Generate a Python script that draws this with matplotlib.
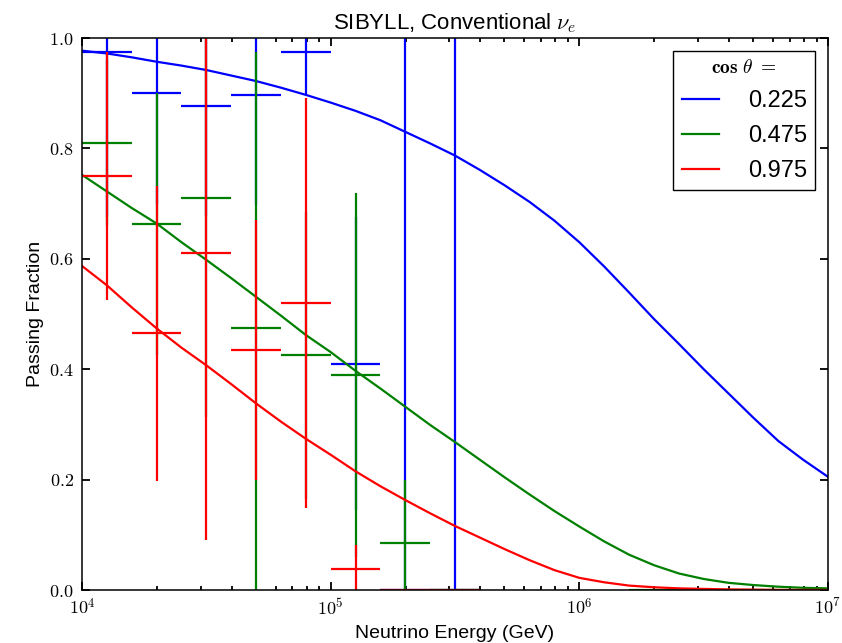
import numpy as np
import matplotlib
matplotlib.use('Agg')
import matplotlib.pyplot as plt
from matplotlib.ticker import FixedLocator, FuncFormatter, LogLocator

plt.rcParams['font.family'] = ['Liberation Sans', 'DejaVu Sans']
plt.rcParams['mathtext.fontset'] = 'cm'

# ---- model curves (passing fraction vs log10 E) ----
logE_curve = [4.0, 4.1, 4.2, 4.3, 4.4, 4.5, 4.6, 4.7, 4.8, 4.9, 5.0,
              5.1, 5.2, 5.3, 5.4, 5.5, 5.6, 5.7, 5.8, 5.9, 6.0,
              6.1, 6.2, 6.3, 6.4, 6.5, 6.6, 6.7, 6.8, 6.9, 7.0]
curve_225 = [0.977, 0.972, 0.965, 0.957, 0.950, 0.942, 0.932, 0.922, 0.910, 0.897, 0.883,
             0.868, 0.851, 0.830, 0.809, 0.787, 0.761, 0.733, 0.703, 0.669, 0.630,
             0.586, 0.539, 0.491, 0.446, 0.400, 0.356, 0.312, 0.270, 0.236, 0.205]
curve_475 = [0.752, 0.722, 0.692, 0.664, 0.630, 0.598, 0.565, 0.531, 0.497, 0.462, 0.431,
             0.397, 0.365, 0.332, 0.299, 0.268, 0.236, 0.204, 0.173, 0.143, 0.115,
             0.088, 0.064, 0.045, 0.030, 0.020, 0.013, 0.009, 0.006, 0.004, 0.003]
curve_975 = [0.587, 0.552, 0.512, 0.474, 0.439, 0.407, 0.373, 0.338, 0.305, 0.274, 0.245,
             0.215, 0.188, 0.163, 0.139, 0.116, 0.095, 0.074, 0.054, 0.036, 0.022,
             0.014, 0.008, 0.005, 0.003, 0.002, 0.001, 0.0005, 0.0, 0.0, 0.0]

# ---- binned MC points (bin centres in log10 E, half width 0.1 decade) ----
bin_halfwidth = 0.1

bins_225 = [4.1, 4.3, 4.5, 4.7, 4.9, 5.1, 5.3, 5.5]
pf_225 = [0.975, 0.900, 0.877, 0.897, 0.975, 0.410, 0.0, 0.0]
lo_225 = [0.300, 0.200, 0.200, 0.200, 0.078, 0.265, 0.0, 0.0]
hi_225 = [0.300, 0.200, 0.200, 0.200, 0.078, 0.265, 1.5, 1.5]

bins_475 = [4.1, 4.3, 4.5, 4.7, 4.9, 5.1, 5.3, 5.5, 6.3, 6.5, 6.7, 6.9]
pf_475 = [0.810, 0.663, 0.710, 0.475, 0.425, 0.390, 0.085, 0.0, 0.0, 0.0, 0.0, 0.0]
lo_475 = [0.150, 0.237, 0.397, 0.475, 0.260, 0.330, 0.085, 0.0, 0.0, 0.0, 0.0, 0.0]
hi_475 = [0.150, 0.237, 0.397, 0.500, 0.260, 0.330, 0.115, 0.0, 0.0, 0.0, 0.0, 0.0]

bins_975 = [4.1, 4.3, 4.5, 4.7, 4.9, 5.1, 5.3, 5.5, 6.5, 6.7, 6.9]
pf_975 = [0.750, 0.465, 0.610, 0.435, 0.520, 0.038, 0.0, 0.0, 0.0, 0.0, 0.0]
lo_975 = [0.225, 0.267, 0.520, 0.235, 0.372, 0.038, 0.0, 0.0, 0.0, 0.0, 0.0]
hi_975 = [0.225, 0.267, 0.520, 0.235, 0.372, 0.044, 0.0, 0.0, 0.0, 0.0, 0.0]

labels = ['0.225', '0.475', '0.975']
colors = ['b', 'g', 'r']

series = [
    (curve_225, bins_225, pf_225, lo_225, hi_225),
    (curve_475, bins_475, pf_475, lo_475, hi_475),
    (curve_975, bins_975, pf_975, lo_975, hi_975),
]

fig = plt.figure(figsize=(8.42, 6.43), dpi=100)
ax = fig.add_axes([0.0974, 0.0824, 0.886, 0.8585])

E_curve = 10**np.array(logE_curve)
for (curve, bins, pf, lo, hi), lab, col in zip(series, labels, colors):
    ax.plot(E_curve, curve, color=col, lw=1.6, label=lab)
    lb = np.array(bins)
    E = 10**lb
    xerr = [E - 10**(lb - bin_halfwidth), 10**(lb + bin_halfwidth) - E]
    ax.errorbar(E, pf, xerr=xerr, yerr=[lo, hi], fmt='none', ecolor=col,
                elinewidth=1.6, capsize=0)

ax.set_xscale('log')
ax.set_xlim(1e4, 1e7)
ax.set_ylim(0, 1)

ax.xaxis.set_major_locator(FixedLocator([1e4, 1e5, 1e6, 1e7]))
ax.xaxis.set_minor_locator(LogLocator(base=10, subs=np.arange(2, 10)))
ax.xaxis.set_major_formatter(FuncFormatter(lambda v, p: r'$10^{%d}$' % round(np.log10(v))))
ax.yaxis.set_major_locator(FixedLocator([0.0, 0.2, 0.4, 0.6, 0.8, 1.0]))
ax.yaxis.set_major_formatter(FuncFormatter(lambda v, p: r'$%.1f$' % v))

ax.tick_params(which='both', direction='in', top=True, right=True, width=1.3)
ax.tick_params(which='major', length=6, labelsize=13, pad=6)
ax.tick_params(which='minor', length=3)
for s in ax.spines.values():
    s.set_linewidth(1.1)

ax.set_xlabel('Neutrino Energy (GeV)', fontsize=14)
ax.set_ylabel('Passing Fraction', fontsize=14)
ax.set_title(r'SIBYLL, Conventional $\nu_e$', fontsize=16)

leg = ax.legend(title=r'$\mathbf{cos}\ \theta\ =$', loc='upper right', fontsize=17,
                title_fontsize=14, fancybox=False, edgecolor='k', framealpha=1,
                handlelength=1.6, handletextpad=1.2, labelspacing=0.55, borderpad=0.35,
                borderaxespad=0.55)
leg.get_frame().set_linewidth(1.0)

fig.savefig('out.png', dpi=100)
